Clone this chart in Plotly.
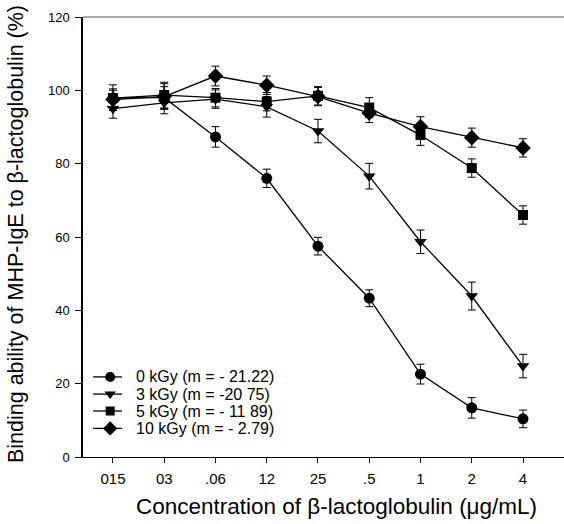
import plotly.graph_objects as go

categories = ["015", "03", ".06", "12", "25", ".5", "1", "2", "4"]

names = ["0 kGy (m = - 21.22)", "3 kGy (m = -20 75)", "5 kGy (m = - 11 89)", "10 kGy (m = - 2.79)"]

y_0kgy = [98.0, 98.0, 87.3, 76.0, 57.5, 43.3, 22.6, 13.4, 10.4]
e_0kgy = [3.5, 3.0, 2.8, 2.5, 2.4, 2.3, 2.7, 2.8, 2.4]

y_3kgy = [95.0, 96.6, 97.6, 95.5, 88.9, 76.6, 58.7, 43.9, 24.8]
e_3kgy = [2.6, 3.0, 2.5, 2.8, 3.2, 3.5, 3.2, 3.8, 3.2]

y_5kgy = [97.9, 98.7, 98.0, 96.9, 98.5, 95.3, 87.8, 78.8, 66.0]
e_5kgy = [2.5, 3.5, 2.5, 2.5, 2.5, 2.7, 2.8, 2.5, 2.5]

y_10kgy = [97.5, 98.3, 103.9, 101.4, 98.3, 93.8, 90.1, 87.1, 84.3]
e_10kgy = [2.5, 3.5, 2.7, 2.5, 2.5, 2.6, 2.7, 2.6, 2.5]

series = [
    (names[0], y_0kgy, e_0kgy, "circle", 11),
    (names[1], y_3kgy, e_3kgy, "triangle-down", 11),
    (names[2], y_5kgy, e_5kgy, "square", 10),
    (names[3], y_10kgy, e_10kgy, "diamond", 12),
]

FONT = "Liberation Sans, Arial, sans-serif"

fig = go.Figure()
for name, ys, es, sym, sz in series:
    fig.add_trace(go.Scatter(
        x=list(range(len(categories))), y=ys, name=name, showlegend=False,
        mode="lines+markers",
        line=dict(color="black", width=1.3),
        marker=dict(symbol=sym, size=sz, color="black"),
        error_y=dict(type="data", array=es, visible=True, color="black", thickness=1, width=4),
    ))

# custom legend (sample line + marker on an overlay paper-like axis, text as annotations)
leg_y = [0.182, 0.143, 0.1045, 0.065]
annotations = []
for (name, ys, es, sym, sz), ly in zip(series, leg_y):
    fig.add_trace(go.Scatter(
        x=[0.021, 0.081], y=[ly, ly], xaxis="x2", yaxis="y2", mode="lines",
        line=dict(color="black", width=1.3), showlegend=False, hoverinfo="skip"))
    fig.add_trace(go.Scatter(
        x=[0.0565], y=[ly], xaxis="x2", yaxis="y2", mode="markers",
        marker=dict(symbol=sym, size=sz - 1, color="black"), showlegend=False, hoverinfo="skip"))
    annotations.append(dict(text=name, xref="paper", yref="paper", x=0.106, y=ly,
                            xanchor="left", yanchor="middle", showarrow=False,
                            font=dict(size=16, family=FONT, color="black")))

annotations.append(dict(text="Binding ability of MHP-IgE to β-lactoglobulin (%)",
                        xref="paper", yref="paper", x=-0.139, y=0.507, textangle=-90,
                        xanchor="center", yanchor="middle", showarrow=False,
                        font=dict(size=21.5, family=FONT, color="black")))
annotations.append(dict(text="Concentration of β-lactoglobulin (μg/mL)",
                        xref="paper", yref="paper", x=0.527, y=-0.113,
                        xanchor="center", yanchor="middle", showarrow=False,
                        font=dict(size=22.5, family=FONT, color="black")))

fig.update_layout(
    width=564, height=524,
    margin=dict(l=83, r=0, t=17, b=67),
    paper_bgcolor="white", plot_bgcolor="white",
    font=dict(family=FONT, color="black"),
    showlegend=False,
    annotations=annotations,
    xaxis=dict(
        range=[-0.585, 8.8], tickmode="array",
        tickvals=list(range(len(categories))), ticktext=categories,
        showgrid=False, zeroline=False, showline=True, linecolor="black", linewidth=1.2,
        ticks="outside", ticklen=5, tickcolor="black",
        tickfont=dict(size=15), ticklabelstandoff=3,
    ),
    yaxis=dict(
        range=[0, 120], tickvals=[0, 20, 40, 60, 80, 100, 120],
        showgrid=False, zeroline=False, showline=True, linecolor="black", linewidth=1.5,
        ticks="outside", ticklen=6, tickcolor="black",
        tickfont=dict(size=13), ticklabelstandoff=3,
    ),
    xaxis2=dict(overlaying="x", range=[0, 1], visible=False, fixedrange=True),
    yaxis2=dict(overlaying="y", range=[0, 1], visible=False, fixedrange=True),
    shapes=[dict(type="line", xref="paper", yref="paper", x0=0, x1=1, y0=1, y1=1,
                 line=dict(color="#555555", width=1))],
)

fig.write_html("out.html")
